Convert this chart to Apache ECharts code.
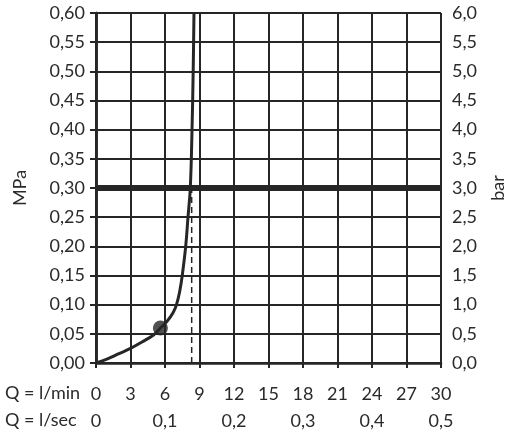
<!DOCTYPE html>
<html>
<head>
<meta charset="utf-8">
<script src="https://cdn.jsdelivr.net/npm/echarts@6/dist/echarts.min.js"></script>
<style>
  html, body { margin: 0; padding: 0; background: #fff; }
  #chart { width: 508px; height: 440px; }
</style>
</head>
<body>
<div id="chart"></div>
<script>
// Durchfluss Q (l/min) gegen Fliessdruck (MPa)
var flowLmin = [0, 1, 2, 3, 4, 5, 5.6, 6.2, 6.7, 7.0, 7.3, 7.5, 7.8, 8.0, 8.2, 8.35, 8.45, 8.52];
var pressureMPa = [0, 0.007, 0.016, 0.025, 0.036, 0.048, 0.06, 0.072, 0.086, 0.10, 0.125, 0.15, 0.20, 0.25, 0.30, 0.40, 0.50, 0.60];

var markerPoint = [5.6, 0.06];
var limitFlow = 8.32;          // gestrichelte Linie
var limitFlowTop = 0.30;
var refPressure = 0.30;        // dicke Linie bei 3 bar

var lminTicks = [0, 3, 6, 9, 12, 15, 18, 21, 24, 27, 30];
var lsecTicks = [0, 0.1, 0.2, 0.3, 0.4, 0.5];

var dark = '#262626';
var txt = '#2a2a2a';
var font = 'Lato';
var fs = 18;

var chart = echarts.init(document.getElementById('chart'));

var curveData = flowLmin.map(function (x, i) { return [x, pressureMPa[i]]; });

function comma(v, d) {
  return v.toFixed(d).replace('.', ',');
}

var option = {
  animation: false,
  textStyle: { fontFamily: font },
  grid: { left: 96, right: 67, top: 13, bottom: 77, containLabel: false, outerBoundsMode: 'none' },
  xAxis: [
    {
      type: 'value',
      min: lminTicks[0],
      max: lminTicks[lminTicks.length - 1],
      interval: 3,
      position: 'bottom',
      axisLine: { show: true, lineStyle: { color: dark, width: 2.5 } },
      axisTick: { show: true, length: 5, lineStyle: { color: dark, width: 2 } },
      axisLabel: { margin: 22, color: txt, fontSize: fs, fontFamily: font },
      splitLine: { show: true, lineStyle: { color: dark, width: 2 } }
    },
    {
      type: 'value',
      min: lsecTicks[0],
      max: lsecTicks[lsecTicks.length - 1],
      interval: 0.1,
      position: 'bottom',
      offset: 27,
      axisLine: { show: false },
      axisTick: { show: false },
      splitLine: { show: false },
      axisLabel: {
        margin: 22, color: txt, fontSize: fs, fontFamily: font,
        formatter: function (v) { return v === 0 ? '0' : comma(v, 1); }
      }
    }
  ],
  yAxis: [
    {
      type: 'value',
      min: 0,
      max: 0.6,
      interval: 0.05,
      position: 'left',
      name: 'MPa',
      nameLocation: 'middle',
      nameRotate: 90,
      nameGap: 67,
      nameTextStyle: { color: txt, fontSize: fs, fontFamily: font },
      axisLine: { show: true, lineStyle: { color: dark, width: 2.5 } },
      axisTick: { show: true, length: 6, lineStyle: { color: dark, width: 2 } },
      axisLabel: { margin: 11, color: txt, fontSize: fs, fontFamily: font,
        formatter: function (v) { return comma(v, 2); } },
      splitLine: { show: true, lineStyle: { color: dark, width: 2 } }
    },
    {
      type: 'value',
      min: 0,
      max: 6,
      interval: 0.5,
      position: 'right',
      name: 'bar',
      nameLocation: 'middle',
      nameRotate: 90,
      nameGap: 48,
      nameTextStyle: { color: txt, fontSize: fs, fontFamily: font },
      axisLine: { show: true, lineStyle: { color: dark, width: 2.5 } },
      axisTick: { show: true, length: 6, lineStyle: { color: dark, width: 2 } },
      axisLabel: { margin: 11, color: txt, fontSize: fs, fontFamily: font,
        formatter: function (v) { return comma(v, 1); } },
      splitLine: { show: false }
    }
  ],
  graphic: [
    { type: 'text', left: 5, top: 384, style: { text: 'Q = l/min', fill: txt, font: fs + 'px "' + font + '"' } },
    { type: 'text', left: 5, top: 411, style: { text: 'Q = l/sec', fill: txt, font: fs + 'px "' + font + '"' } }
  ],
  series: [
    {
      // Referenzlinie 0,30 MPa
      type: 'line',
      data: [],
      silent: true,
      markLine: {
        symbol: 'none',
        silent: true,
        label: { show: false },
        lineStyle: { color: dark, width: 6, type: 'solid' },
        data: [{ yAxis: refPressure }]
      },
      z: 3
    },
    {
      type: 'line',
      data: [[limitFlow, 0], [limitFlow, limitFlowTop]],
      symbol: 'none',
      lineStyle: { color: dark, width: 1.5, type: [6, 4] },
      z: 4
    },
    {
      type: 'line',
      data: curveData,
      smooth: 0.4,
      symbol: 'none',
      lineStyle: { color: dark, width: 3 },
      z: 5
    },
    {
      type: 'scatter',
      data: [markerPoint],
      symbolSize: 15,
      itemStyle: { color: dark },
      z: 6
    }
  ]
};

chart.setOption(option);
</script>
</body>
</html>
